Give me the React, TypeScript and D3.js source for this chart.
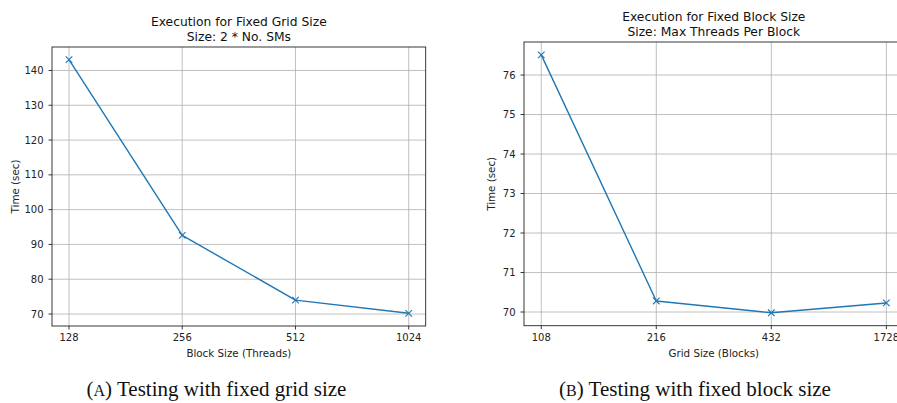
import React from "react";
import * as d3 from "d3";

// Panel A: fixed grid size, varying block size
const blockSizes = ["128", "256", "512", "1024"];
const blockTimes = [143.1, 92.6, 74.0, 70.2];
const blockYTicks = [70, 80, 90, 100, 110, 120, 130, 140];

// Panel B: fixed block size, varying grid size
const gridSizes = ["108", "216", "432", "1728"];
const gridTimes = [76.51, 70.28, 69.98, 70.23];
const gridYTicks = [70, 71, 72, 73, 74, 75, 76];

const W = 897;
const H = 403;
const LINE = "#1f77b4";
const SANS = "'DejaVu Sans', sans-serif";
const SERIF = "'Liberation Serif', 'DejaVu Serif', serif";

type PanelProps = {
  box: { x0: number; x1: number; y0: number; y1: number };
  cats: string[];
  values: number[];
  yTicks: number[];
  title: string[];
  xLabel: string;
  yLabel: string;
  yLabelX: number;
  clipId: string;
};

function Panel({ box, cats, values, yTicks, title, xLabel, yLabel, yLabelX, clipId }: PanelProps) {
  const x = d3.scalePoint<string>().domain(cats).range([box.x0, box.x1]).padding(0.15);
  const lo = d3.min(values)!;
  const hi = d3.max(values)!;
  const pad = (hi - lo) * 0.05;
  const y = d3.scaleLinear().domain([lo - pad, hi + pad]).range([box.y1, box.y0]);
  const line = d3
    .line<number>()
    .x((_, i) => x(cats[i])!)
    .y((d) => y(d));
  const cx = (box.x0 + box.x1) / 2;
  const cy = (box.y0 + box.y1) / 2;
  const m = 3.3;
  return (
    <g>
      <defs>
        <clipPath id={clipId}>
          <rect x={box.x0} y={box.y0 - 6} width={box.x1 - box.x0} height={box.y1 - box.y0 + 12} />
        </clipPath>
      </defs>
      {/* grid */}
      {cats.map((c) => (
        <line key={"gx" + c} x1={x(c)} x2={x(c)} y1={box.y0} y2={box.y1} stroke="#b0b0b0" strokeWidth={0.8} />
      ))}
      {yTicks.map((t) => (
        <line key={"gy" + t} x1={box.x0} x2={box.x1} y1={y(t)} y2={y(t)} stroke="#b0b0b0" strokeWidth={0.8} />
      ))}
      {/* series */}
      <g clipPath={`url(#${clipId})`}>
        <path d={line(values)!} fill="none" stroke={LINE} strokeWidth={1.4} strokeLinejoin="round" />
        {values.map((v, i) => {
          const px = x(cats[i])!;
          const py = y(v);
          return (
            <path
              key={"m" + i}
              d={`M${px - m},${py - m}L${px + m},${py + m}M${px - m},${py + m}L${px + m},${py - m}`}
              stroke={LINE}
              strokeWidth={1.1}
            />
          );
        })}
      </g>
      {/* spines */}
      <rect x={box.x0} y={box.y0} width={box.x1 - box.x0} height={box.y1 - box.y0} fill="none" stroke="#222" strokeWidth={0.9} />
      {/* x ticks */}
      {cats.map((c) => (
        <g key={"xt" + c}>
          <line x1={x(c)} x2={x(c)} y1={box.y1} y2={box.y1 + 3.5} stroke="#222" strokeWidth={0.9} />
          <text x={x(c)} y={box.y1 + 15} textAnchor="middle" fontFamily={SANS} fontSize={10} fill="#222">
            {c}
          </text>
        </g>
      ))}
      {/* y ticks */}
      {yTicks.map((t) => (
        <g key={"yt" + t}>
          <line x1={box.x0 - 3.5} x2={box.x0} y1={y(t)} y2={y(t)} stroke="#222" strokeWidth={0.9} />
          <text x={box.x0 - 8.5} y={y(t) + 3.6} textAnchor="end" fontFamily={SANS} fontSize={10} fill="#222">
            {t}
          </text>
        </g>
      ))}
      {/* axis labels */}
      <text x={cx} y={box.y1 + 31} textAnchor="middle" fontFamily={SANS} fontSize={10.3} fill="#222">
        {xLabel}
      </text>
      <text
        transform={`translate(${yLabelX},${cy}) rotate(-90)`}
        textAnchor="middle"
        fontFamily={SANS}
        fontSize={10.3}
        fill="#222"
      >
        {yLabel}
      </text>
      {/* title */}
      {title.map((t, i) => (
        <text
          key={"t" + i}
          x={cx}
          y={box.y0 - 21.5 + i * 15.5}
          textAnchor="middle"
          fontFamily={SANS}
          fontSize={12.3}
          fill="#111"
        >
          {t}
        </text>
      ))}
    </g>
  );
}

export default function App() {
  return (
    <svg
      width={W}
      height={H}
      viewBox={`0 0 ${W} ${H}`}
      style={{ position: "absolute", left: 0, top: 0, background: "#fff" }}
    >
      <rect width={W} height={H} fill="#fff" />
      <Panel
        box={{ x0: 52, x1: 425.7, y0: 47, y1: 326 }}
        cats={blockSizes}
        values={blockTimes}
        yTicks={blockYTicks}
        title={["Execution for Fixed Grid Size", "Size: 2 * No. SMs"]}
        xLabel="Block Size (Threads)"
        yLabel="Time (sec)"
        yLabelX={19}
        clipId="clipA"
      />
      <Panel
        box={{ x0: 524, x1: 903.6, y0: 42, y1: 325.7 }}
        cats={gridSizes}
        values={gridTimes}
        yTicks={gridYTicks}
        title={["Execution for Fixed Block Size", "Size: Max Threads Per Block"]}
        xLabel="Grid Size (Blocks)"
        yLabel="Time (sec)"
        yLabelX={495}
        clipId="clipB"
      />
      <text x={216.5} y={396} textAnchor="middle" fontFamily={SERIF} fontSize={21} fill="#111">
        (<tspan fontSize={16}>A</tspan>) Testing with fixed grid size
      </text>
      <text x={695} y={396} textAnchor="middle" fontFamily={SERIF} fontSize={21} fill="#111">
        (<tspan fontSize={16}>B</tspan>) Testing with fixed block size
      </text>
    </svg>
  );
}
